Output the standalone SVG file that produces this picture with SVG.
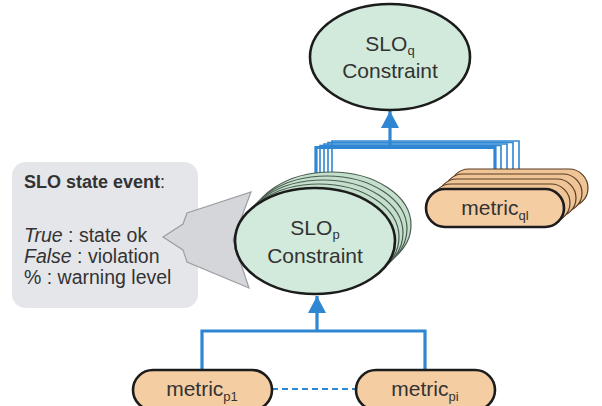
<svg xmlns="http://www.w3.org/2000/svg" width="602" height="406" viewBox="0 0 602 406">
  <style>
    .lbl { font-family: "Liberation Sans", Arial, sans-serif; fill: #333; }
    .node-main { font-size: 21px; text-anchor: middle; }
    .sub { font-size: 13px; }
    .slo { fill: #d1eadb; stroke: #1c1c1c; stroke-width: 2.6; }
    .slo-back { fill: #c4e0cc; stroke: #4a5c50; stroke-width: 1.2; }
    .met { fill: #f4cda3; stroke: #1c1c1c; stroke-width: 2.6; }
    .met-back { fill: #efc497; stroke: #5a3d22; stroke-width: 1.2; }
    .wire { fill: none; stroke: #2f86d2; stroke-width: 3.2; }
    .wire-thin { fill: none; stroke: #2f86d2; stroke-width: 1.6; }
    .legend-text { font-size: 19.5px; }
  </style>
  <defs>
    <marker id="head" markerUnits="userSpaceOnUse" markerWidth="20" markerHeight="18" refX="17" refY="9" orient="auto">
      <path d="M0,0 L17,9 L0,18 Z" fill="#2f86d2"/>
    </marker>
  </defs>

  <rect width="602" height="406" fill="#ffffff"/>

  <!-- legend box with the state event description -->
  <g id="state-event">
    <rect x="12" y="162" width="186" height="146" rx="14" fill="#e5e6e9"/>
    <text class="lbl" x="24" y="188" font-size="18" font-weight="bold">SLO state event<tspan font-weight="normal">:</tspan></text>
    <text class="lbl legend-text" x="24" y="242"><tspan font-style="italic">True</tspan> : state ok</text>
    <text class="lbl legend-text" x="24" y="263"><tspan font-style="italic">False</tspan> : violation</text>
    <text class="lbl legend-text" x="24" y="284">% : warning level</text>
  </g>

  <!-- callout pointing from SLOp to the legend -->
  <g id="callout">
    <path d="M163,237 L183,224 L187,213 L251,192 L233,240 L249,288 L187,262 L183,250 Z" fill="#d4d6d9" stroke="#9c9ea2" stroke-width="1.2" stroke-linejoin="miter"/>
  </g>

  <!-- connectors -->
  <g id="connectors">
    <!-- stacked SLOp copies to stacked metric_ql copies -->
    <path class="wire-thin" d="M332,172 V141 H519 V169"/>
    <path class="wire-thin" d="M328,176 V142.5 H513 V174"/>
    <path class="wire-thin" d="M324,180 V144 H507 V179"/>
    <path class="wire-thin" d="M320,184 V145.5 H501 V184"/>
    <!-- main bus -->
    <path class="wire" d="M316,188 V147.5 H495 V189"/>
    <line class="wire" x1="390" y1="147.5" x2="390" y2="111" marker-end="url(#head)"/>
    <!-- metrics feeding SLOp -->
    <path class="wire" d="M202,370 V331 H425 V370"/>
    <line class="wire" x1="317" y1="331" x2="317" y2="296" marker-end="url(#head)"/>
    <line x1="272" y1="389" x2="356" y2="389" stroke="#2f86d2" stroke-width="2.2" stroke-dasharray="6,4"/>
  </g>

  <!-- SLOq constraint -->
  <g id="slo-q">
    <ellipse class="slo" cx="390" cy="57" rx="80" ry="53"/>
    <text class="lbl node-main" x="390" y="51">SLO<tspan class="sub" dy="4">q</tspan></text>
    <text class="lbl node-main" x="390" y="78">Constraint</text>
  </g>

  <!-- SLOp constraint with stacked instances -->
  <g id="slo-p">
    <ellipse class="slo-back" cx="331" cy="225" rx="80" ry="53"/>
    <ellipse class="slo-back" cx="327" cy="229" rx="80" ry="53"/>
    <ellipse class="slo-back" cx="323" cy="233" rx="80" ry="53"/>
    <ellipse class="slo-back" cx="319" cy="237" rx="80" ry="53"/>
    <ellipse class="slo" cx="315" cy="241" rx="80" ry="53"/>
    <text class="lbl node-main" x="315" y="235">SLO<tspan class="sub" dy="4">p</tspan></text>
    <text class="lbl node-main" x="315" y="263">Constraint</text>
  </g>

  <!-- metric_ql with stacked instances -->
  <g id="metric-ql">
    <rect class="met-back" x="450" y="169" width="138" height="38" rx="19"/>
    <rect class="met-back" x="444" y="174" width="138" height="38" rx="19"/>
    <rect class="met-back" x="438" y="179" width="138" height="38" rx="19"/>
    <rect class="met-back" x="432" y="184" width="138" height="38" rx="19"/>
    <rect class="met" x="426" y="189" width="138" height="38" rx="19"/>
    <text class="lbl node-main" x="495" y="215">metric<tspan class="sub" dy="5">ql</tspan></text>
  </g>

  <!-- metric_p1 -->
  <g id="metric-p1">
    <rect class="met" x="133" y="370" width="139" height="40" rx="20"/>
    <text class="lbl node-main" x="202" y="396">metric<tspan class="sub" dy="5">p1</tspan></text>
  </g>

  <!-- metric_pi -->
  <g id="metric-pi">
    <rect class="met" x="356" y="370" width="139" height="40" rx="20"/>
    <text class="lbl node-main" x="425" y="396">metric<tspan class="sub" dy="5">pi</tspan></text>
  </g>
</svg>
